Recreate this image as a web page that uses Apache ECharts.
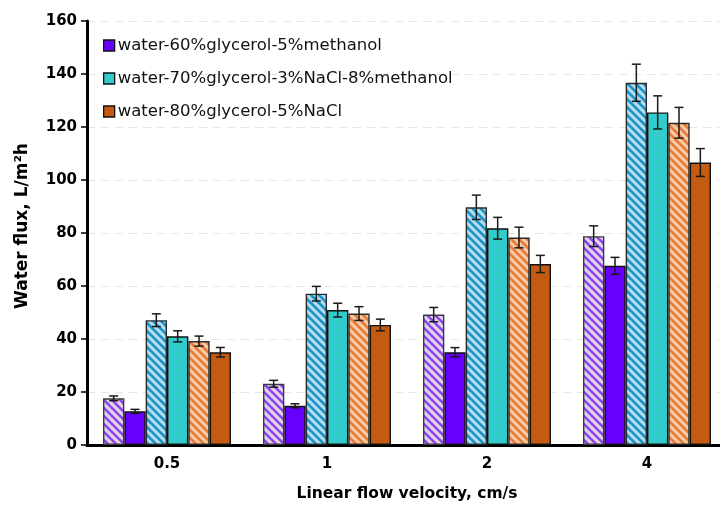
<!DOCTYPE html>
<html><head><meta charset="utf-8">
<script src="https://cdn.jsdelivr.net/npm/echarts@6/dist/echarts.min.js"></script>
<style>html,body{margin:0;padding:0;background:#fff;overflow:hidden}#c{width:727px;height:507px}</style>
</head><body><div id="c"></div>
<script>
const categories = ['0.5', '1', '2', '4'];
const yTicks = [0, 20, 40, 60, 80, 100, 120, 140, 160];
const legendNames = ['water-60%glycerol-5%methanol', 'water-70%glycerol-3%NaCl-8%methanol', 'water-80%glycerol-5%NaCl'];
// six bars per category: hatched purple, solid purple, hatched teal, solid teal, hatched orange, solid orange
const hatchPurple = [17.6, 23.1, 49.2, 78.8];
const solidPurple = [12.7, 14.8, 35.0, 67.6];
const hatchTeal = [47.1, 57.1, 89.7, 136.7];
const solidTeal = [41.0, 50.9, 81.8, 125.5];
const hatchOrange = [39.2, 49.6, 78.3, 121.6];
const solidOrange = [35.0, 45.3, 68.3, 106.6];
const errHatchPurple = [0.9, 1.3, 2.7, 3.9];
const errSolidPurple = [0.75, 0.75, 1.75, 3.2];
const errHatchTeal = [2.4, 2.75, 4.6, 7.0];
const errSolidTeal = [2.1, 2.6, 4.1, 6.25];
const errHatchOrange = [1.9, 2.6, 3.9, 5.8];
const errSolidOrange = [1.8, 2.2, 3.25, 5.25];

function makePattern(bg, fg) {
  const s = 8;
  const cv = document.createElement('canvas');
  cv.width = s; cv.height = s;
  const ctx = cv.getContext('2d');
  ctx.fillStyle = bg; ctx.fillRect(0, 0, s, s);
  ctx.strokeStyle = fg; ctx.lineWidth = 2.6;
  for (const c of [-s, 0, s]) {
    ctx.beginPath(); ctx.moveTo(-1, c - 1); ctx.lineTo(s + 1, c + s + 1); ctx.stroke();
  }
  return { image: cv, repeat: 'repeat' };
}

const seriesDefs = [
  { name: 'hatch-purple', data: hatchPurple, err: errHatchPurple, color: makePattern('#dcd8e6', '#9440f2'), border: '#3a3a3a' },
  { name: legendNames[0], data: solidPurple, err: errSolidPurple, color: '#6600ff', border: '#111' },
  { name: 'hatch-teal', data: hatchTeal, err: errHatchTeal, color: makePattern('#b4dcec', '#1693c8'), border: '#2a2a2a' },
  { name: legendNames[1], data: solidTeal, err: errSolidTeal, color: '#33cccc', border: '#111' },
  { name: 'hatch-orange', data: hatchOrange, err: errHatchOrange, color: makePattern('#f8c8a4', '#e27a36'), border: '#2a2a2a' },
  { name: legendNames[2], data: solidOrange, err: errSolidOrange, color: '#c55a11', border: '#111' }
];

const NB = seriesDefs.length;
const CAT_GAP = 0.2;
const barSeries = seriesDefs.map(d => ({
  name: d.name,
  type: 'bar',
  data: d.data,
  barGap: '0%',
  barCategoryGap: (CAT_GAP * 100) + '%',
  itemStyle: { color: d.color, borderColor: d.border, borderWidth: 1.4 },
  emphasis: { disabled: true },
  z: 2
}));

const errData = [];
seriesDefs.forEach((d, k) => {
  d.data.forEach((v, i) => errData.push([i, v, d.err[i], k]));
});

const errSeries = {
  type: 'custom',
  name: 'err',
  data: errData,
  encode: { x: 0, y: 1 },
  z: 5,
  silent: true,
  renderItem: function (params, api) {
    const cat = api.value(0), v = api.value(1), e = api.value(2), k = api.value(3);
    const catW = api.size([1, 0])[0];
    const barW = catW * (1 - CAT_GAP) / NB;
    const base = api.coord([cat, v]);
    const x = base[0] - catW * (1 - CAT_GAP) / 2 + barW * (k + 0.5);
    const yTop = api.coord([cat, v + e])[1];
    const yBot = api.coord([cat, v - e])[1];
    const cap = 4.5;
    const style = { stroke: '#1a1a1a', lineWidth: 1.5 };
    return {
      type: 'group',
      children: [
        { type: 'line', shape: { x1: x, y1: yTop, x2: x, y2: yBot }, style: style },
        { type: 'line', shape: { x1: x - cap, y1: yTop, x2: x + cap, y2: yTop }, style: style },
        { type: 'line', shape: { x1: x - cap, y1: yBot, x2: x + cap, y2: yBot }, style: style }
      ]
    };
  }
};

const FONT = 'DejaVu Sans, Liberation Sans, Arial, sans-serif';
const chart = echarts.init(document.getElementById('c'), null, { renderer: 'canvas' });
chart.setOption({
  animation: false,
  backgroundColor: '#fff',
  textStyle: { fontFamily: FONT },
  grid: { left: 87, right: 0, top: 21, bottom: 59.5, containLabel: false },
  legend: {
    data: legendNames,
    orient: 'vertical',
    left: 98,
    top: 32,
    itemWidth: 11,
    itemHeight: 11,
    itemGap: 16,
    icon: 'rect',
    itemStyle: { borderColor: '#111', borderWidth: 1.3 },
    textStyle: { fontFamily: FONT, fontSize: 16.5, color: '#111', padding: [0, 0, 0, -2] },
    selectedMode: false
  },
  xAxis: {
    type: 'category',
    data: categories,
    name: 'Linear flow velocity, cm/s',
    nameLocation: 'middle',
    nameGap: 41,
    nameTextStyle: { fontFamily: FONT, fontWeight: 'bold', fontSize: 15.5, color: '#000' },
    axisLine: { lineStyle: { color: '#000', width: 3 } },
    axisTick: { show: false },
    axisLabel: { fontFamily: FONT, fontWeight: 'bold', fontSize: 15, color: '#000', margin: 12 }
  },
  yAxis: {
    type: 'value',
    min: yTicks[0],
    max: yTicks[yTicks.length - 1],
    interval: yTicks[1] - yTicks[0],
    name: 'Water flux, L/m²h',
    nameLocation: 'middle',
    nameGap: 56,
    nameTextStyle: { fontFamily: FONT, fontWeight: 'bold', fontSize: 17, color: '#000', padding: [0, 0, 0, 14] },
    axisLine: { show: true, lineStyle: { color: '#000', width: 3 } },
    axisTick: { show: true, length: 6, lineStyle: { color: '#000', width: 1.5 } },
    axisLabel: { fontFamily: FONT, fontWeight: 'bold', fontSize: 15, color: '#000', margin: 10 },
    splitLine: { show: true, lineStyle: { color: '#e6e6e6', type: [8, 6], width: 1.2 } }
  },
  series: barSeries.concat([errSeries])
});
</script>
</body></html>
